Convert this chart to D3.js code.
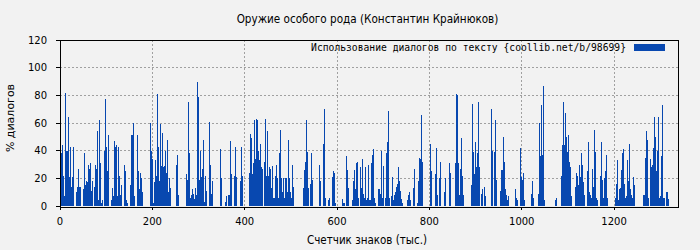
<!DOCTYPE html>
<html><head><meta charset="utf-8">
<script src="https://cdn.jsdelivr.net/npm/d3@7"></script>
<style>
html,body{margin:0;padding:0;background:#f2f2f2;}
svg{display:block}
</style></head><body>
<svg id="chart" width="700" height="250"></svg>
<script>
const chartTitle = "Оружие особого рода (Константин Крайнюков)";
const xAxisTitle = "Счетчик знаков (тыс.)";
const yAxisTitle = "% диалогов";
const legendLabel = "Использование диалогов по тексту {coollib.net/b/98699}";
const xTicks = [0, 200, 400, 600, 800, 1000, 1200];
const yTicks = [0, 20, 40, 60, 80, 100, 120];
const xMax = 1338.4;   // thousand chars at right edge of plot
const yMax = 120;
const binK = 2.1657;   // thousand chars covered by one bar
const firstK = 2.1657; // start of first bar (thousand chars)
// % of dialogue per text block
const dialogPct = [
38,44,22,7,82,40,40,64,21,43,14,21,43,0,0,10,14,27,14,14,0,0,12,38,15,18,17,30,27,31,11,18,0,14,30,27,54,4,62,31,2,4,0,40,77,43,25,51,0,0,4,13,7,47,43,44,7,43,22,8,15,0,0,30,25,4,2,0,0,15,51,51,60,7,0,0,51,25,12,24,20,10,
0,0,0,0,0,0,0,60,40,34,2,17,33,22,81,43,18,59,29,53,28,29,40,24,48,10,20,13,0,0,0,0,0,30,37,8,0,0,0,0,0,0,0,23,19,75,38,6,8,12,9,5,13,8,90,79,19,40,21,27,48,3,22,11,0,0,61,30,9,18,0,0,0,0,0,0,0,41,20,0,0,0,3,7,0,8,8,
47,23,0,0,22,43,21,0,0,0,18,43,22,0,0,0,0,0,0,24,52,49,23,31,62,34,63,62,40,33,45,28,27,0,32,63,22,54,22,28,27,13,29,6,6,22,30,20,6,38,55,20,10,20,6,20,20,10,48,20,10,6,30,14,0,0,0,0,0,0,0,0,0,13,26,32,62,39,13,0,16,38,19,0,0,
0,0,0,0,30,18,0,0,45,70,6,0,0,4,6,0,0,21,25,24,2,0,0,0,0,0,0,5,2,2,0,36,26,13,0,0,0,4,18,26,12,31,32,6,0,28,13,34,9,6,28,4,6,30,4,4,31,37,41,6,2,0,0,12,12,9,40,6,29,0,6,38,46,69,6,0,7,21,4,8,
10,14,16,28,18,11,5,2,0,0,0,0,4,8,10,4,0,0,13,27,0,0,2,18,35,34,66,32,0,0,0,0,0,0,0,45,25,0,0,0,23,42,8,0,20,32,0,0,0,10,20,0,0,0,31,24,0,0,0,0,31,81,80,31,8,27,49,22,8,0,0,0,0,0,0,0,
15,74,39,23,46,28,38,75,28,0,9,12,0,14,7,0,0,0,0,0,70,40,0,39,62,19,0,0,0,
11,26,26,50,32,12,8,4,7,0,0,0,0,0,0,12,6,4,0,0,42,21,19,24,4,0,0,0,0,0,0,9,18,6,0,0,0,0,9,60,36,73,37,87,4,0,0,0,0,0,0,0,0,0,0,4,6,0,0,0,0,22,44,75,44,67,50,39,51,32,28,
7,0,0,0,14,24,22,15,30,21,38,30,17,8,0,0,25,46,10,8,6,27,14,55,39,6,4,0,0,22,46,19,6,20,25,37,6,0,0,0,0,0,0,0,6,16,33,4,12,13,26,38,41,16,6,7,33,18,45,12,8,6,21,15,0,0,0,0,0,0,0,0,8,8,35,54,48,6,0,34,28,30,42,64,
50,25,40,64,6,7,36,73,6,6,0,10,10,5
];

const barColor = "#0848b0";
const svg = d3.select("#chart");
const x = d3.scaleLinear().domain([0, xMax]).range([60, 678]);
const y = d3.scaleLinear().domain([0, yMax]).range([206, 40]);
const crisp = v => Math.round(v - 0.5) + 0.5;

svg.append("rect").attr("width", 700).attr("height", 250).attr("fill", "#f2f2f2");

// grid
const grid = svg.append("g").attr("stroke", "#a0a0a0").attr("stroke-dasharray", "2,2").attr("stroke-width", 1);
yTicks.filter(v => v > 0 && v < yMax).forEach(v => {
  grid.append("line").attr("x1", x(0)).attr("x2", x(xMax)).attr("y1", crisp(y(v))).attr("y2", crisp(y(v)));
});
xTicks.filter(v => v > 0).forEach(v => {
  grid.append("line").attr("y1", y(yMax)).attr("y2", y(0)).attr("x1", crisp(x(v))).attr("x2", crisp(x(v)));
});

// bars
svg.append("g").attr("shape-rendering", "crispEdges")
  .selectAll("rect").data(dialogPct).join("rect")
  .attr("x", (d, i) => x(firstK + i * binK))
  .attr("width", (d, i) => x(firstK + (i + 1) * binK) - x(firstK + i * binK))
  .attr("y", d => y(d))
  .attr("height", d => y(0) - y(d))
  .attr("fill", barColor);

// frame
svg.append("rect").attr("x", crisp(x(0))).attr("y", crisp(y(yMax)))
  .attr("width", crisp(x(xMax)) - crisp(x(0))).attr("height", crisp(y(0)) - crisp(y(yMax)) + 1)
  .attr("fill", "none").attr("stroke", "#000").attr("stroke-width", 1);

// axes ticks and labels
const tickFont = "DejaVu Sans, sans-serif";
const yt = svg.append("g");
yTicks.forEach(v => {
  yt.append("line").attr("x1", 56).attr("x2", 60).attr("y1", crisp(y(v))).attr("y2", crisp(y(v))).attr("stroke", "#000");
  yt.append("text").attr("x", 47).attr("y", y(v)).attr("dy", "0.36em").attr("text-anchor", "end")
    .attr("font-family", tickFont).attr("font-size", 10).attr("fill", "#000").text(v);
});
const xt = svg.append("g");
xTicks.forEach(v => {
  xt.append("line").attr("y1", 207).attr("y2", 210).attr("x1", crisp(x(v))).attr("x2", crisp(x(v))).attr("stroke", "#000");
  xt.append("text").attr("x", x(v)).attr("y", 225).attr("text-anchor", "middle")
    .attr("font-family", tickFont).attr("font-size", 10).attr("fill", "#000").text(v);
});

// titles
svg.append("text").attr("x", 367.5).attr("y", 23).attr("text-anchor", "middle")
  .attr("font-family", "DejaVu Sans Condensed, DejaVu Sans, sans-serif").attr("font-stretch", "condensed")
  .attr("font-size", 11.6).attr("fill", "#000").text(chartTitle);
svg.append("text").attr("x", 367).attr("y", 244).attr("text-anchor", "middle")
  .attr("font-family", "DejaVu Sans Condensed, DejaVu Sans, sans-serif").attr("font-stretch", "condensed")
  .attr("font-size", 11.5).attr("fill", "#000").text(xAxisTitle);
svg.append("text").attr("transform", "translate(14,118) rotate(-90)").attr("text-anchor", "middle")
  .attr("font-family", "DejaVu Sans, sans-serif").attr("font-size", 11).attr("fill", "#000").text(yAxisTitle);

// legend
svg.append("text").attr("x", 626).attr("y", 51).attr("text-anchor", "end")
  .attr("font-family", "DejaVu Sans Mono, monospace").attr("font-size", 9.7).attr("fill", "#000").text(legendLabel);
svg.append("rect").attr("x", 634).attr("y", 44).attr("width", 31).attr("height", 7).attr("fill", barColor);
</script>
</body></html>
